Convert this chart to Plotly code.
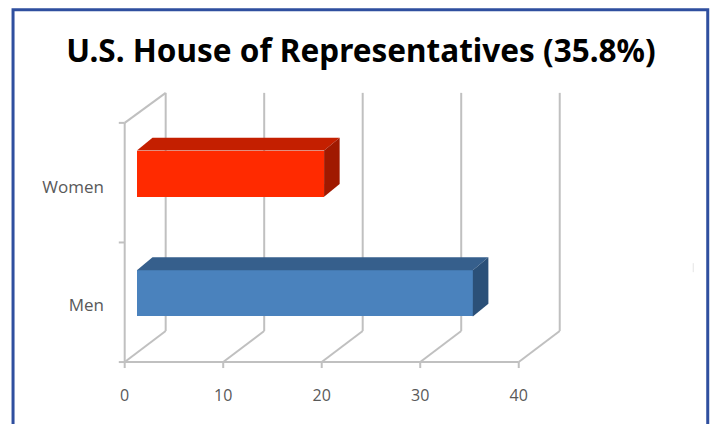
import plotly.graph_objects as go

# Data
categories = ["Men", "Women"]
values = [34.1, 19.0]
front_colors = ["#4a82bd", "#ff2a00"]
top_colors = ["#365f8c", "#c41f00"]
side_colors = ["#2b5078", "#a01900"]
x_ticks = [0, 10, 20, 30, 40]
title_text = "U.S. House of Representatives (35.8%)"

# Pseudo-3D geometry, in axis units
WALL_DX, WALL_DY, WALL_TOP = 4.16, 0.26, 2.251
BAR_X0, BAR_SHIFT, BAR_H = 1.24, 0.575, 0.387
BAR_DX, BAR_DY = 1.58, 0.107
GRID = "#c0c0c0"
LABEL = "#595959"
W, H = 715, 424
L, R, T, B = 105, 146.8, 87.2, 44.4

fig = go.Figure()
ys = [i + BAR_SHIFT for i in range(len(categories))]

fig.add_trace(go.Bar(
    y=ys, x=values, base=[BAR_X0] * len(values), width=BAR_H, orientation="h",
    marker=dict(color=front_colors, line=dict(width=0)), showlegend=False,
    customdata=categories, hovertemplate="%{customdata}: %{x}<extra></extra>",
))
for y, v, tc, sc in zip(ys, values, top_colors, side_colors):
    x0, x1 = BAR_X0, BAR_X0 + v
    y0, y1 = y - BAR_H / 2, y + BAR_H / 2
    fig.add_trace(go.Scatter(
        x=[x0, x1, x1 + BAR_DX, x0 + BAR_DX, x0],
        y=[y1, y1, y1 + BAR_DY, y1 + BAR_DY, y1],
        fill="toself", fillcolor=tc, mode="none", showlegend=False, hoverinfo="skip"))
    fig.add_trace(go.Scatter(
        x=[x1, x1 + BAR_DX, x1 + BAR_DX, x1, x1],
        y=[y0, y0 + BAR_DY, y1 + BAR_DY, y1, y0],
        fill="toself", fillcolor=sc, mode="none", showlegend=False, hoverinfo="skip"))

shapes = []
def seg(x0, y0, x1, y1, width=2, color=GRID, xref="x", yref="y"):
    shapes.append(dict(type="line", layer="below", xref=xref, yref=yref,
                       x0=x0, y0=y0, x1=x1, y1=y1, line=dict(color=color, width=width)))

for v in x_ticks:
    seg(v, 0, v + WALL_DX, WALL_DY)                 # floor diagonal
    seg(v + WALL_DX, WALL_DY, v + WALL_DX, WALL_TOP)  # wall line
    seg(v, -0.05, v, 0)                             # tick
seg(x_ticks[0], 0, x_ticks[-1], 0)                  # x axis
seg(0, 0, 0, 2)                                     # y axis
seg(0, 2, WALL_DX, WALL_TOP)                        # top diagonal
for t in range(3):
    seg(-0.6, t, 0, t)                              # y ticks

# Slide frame and faint stray mark
frame = "#2f4f9f"
shapes.append(dict(type="rect", xref="paper", yref="paper", layer="below",
                   x0=(13 - L) / (W - L - R), x1=(708 - L) / (W - L - R),
                   y0=-1, y1=(H - 10 - B) / (H - T - B),
                   line=dict(color=frame, width=3), fillcolor="rgba(0,0,0,0)"))
shapes.append(dict(type="line", xref="paper", yref="paper", layer="below",
                   x0=(693.5 - L) / (W - L - R), x1=(693.5 - L) / (W - L - R),
                   y0=(H - 272 - B) / (H - T - B), y1=(H - 263 - B) / (H - T - B),
                   line=dict(color="#e4e4e4", width=1)))

fig.update_layout(
    width=W, height=H, margin=dict(l=L, r=R, t=T, b=B, pad=0),
    paper_bgcolor="white", plot_bgcolor="white", shapes=shapes, bargap=0,
    title=dict(text=title_text, x=361 / W, xanchor="center", y=1 - 51 / H, yanchor="middle",
               font=dict(family="Noto Sans", size=31.5, color="#000000", weight="bold")),
    xaxis=dict(range=[-2, 45], tickvals=x_ticks, showgrid=False, zeroline=False, showline=False,
               ticks="outside", ticklen=1, tickcolor="rgba(0,0,0,0)",
               tickfont=dict(family="Open Sans", size=16, color=LABEL)),
    yaxis=dict(range=[-0.15, 2.3], tickvals=[0.48, 1.46], ticktext=categories, showgrid=False,
               zeroline=False, showline=False, ticks="",
               tickfont=dict(family="Open Sans", size=17, color=LABEL)),
)
fig.write_html("out.html", config={"displayModeBar": False},
               post_script="document.body.style.margin='0';")
